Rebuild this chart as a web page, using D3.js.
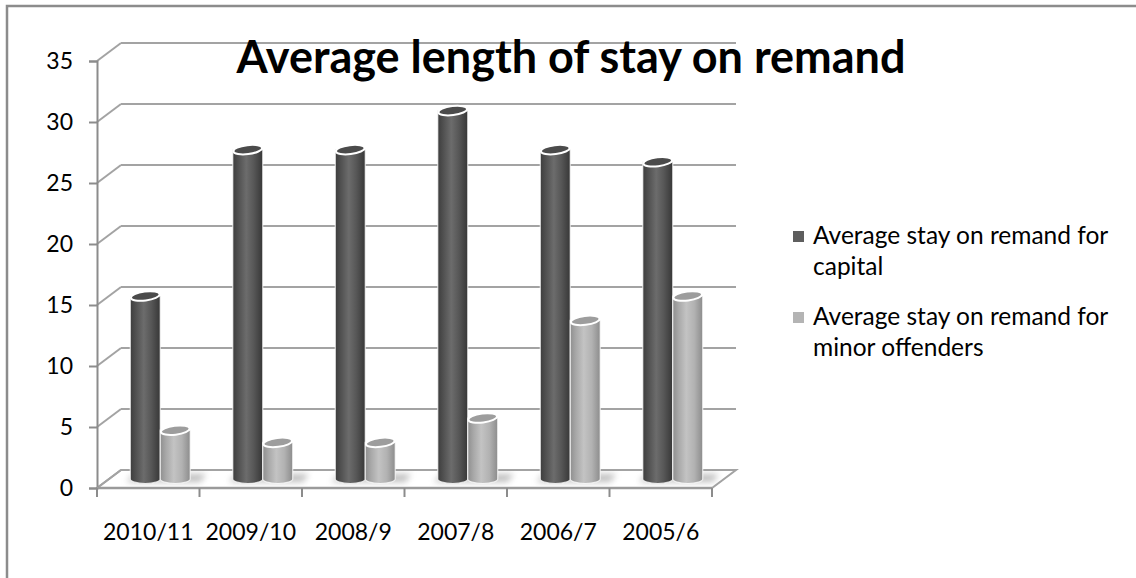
<!DOCTYPE html>
<html>
<head>
<meta charset="utf-8">
<script src="https://cdn.jsdelivr.net/npm/d3@7"></script>
<style>
  html, body { margin: 0; padding: 0; background: #fff; }
  svg { display: block; }
  text { font-family: Lato, "Open Sans", sans-serif; fill: #000; }
</style>
</head>
<body>
<svg id="chart" width="1136" height="578"></svg>
<script>
// Average length of stay on remand, by year
const categories = ["2010/11", "2009/10", "2008/9", "2007/8", "2006/7", "2005/6"];
const capitalStay = [15, 27, 27, 30.2, 27, 26];
const minorStay = [4, 3, 3, 5, 13, 15];
const seriesNames = ["Average stay on remand for capital", "Average stay on remand for minor offenders"];
const legendLines = [["Average stay on remand for", "capital"], ["Average stay on remand for", "minor offenders"]];
const yTicks = [0, 5, 10, 15, 20, 25, 30, 35];
const titleText = "Average length of stay on remand";

const svg = d3.select("#chart");
const W = 1136, H = 578;

// plot geometry (front plane + oblique depth)
const plot = { left: 97, right: 712, top: 61, bottom: 488 };
const depth = { dx: 24, dy: -18 };
const barDepth = 0.5; // bars stand half way into the floor

const x = d3.scaleBand().domain(categories).range([plot.left, plot.right]).padding(0);
const xs = d3.scaleBand().domain(seriesNames).range([0, x.bandwidth()]).paddingInner(0).paddingOuter(0.71);
const y = d3.scaleLinear().domain([0, 35]).range([plot.bottom, plot.top]);

const series = [
  { name: seriesNames[0], values: capitalStay, grad: "gDark", top: "#4b4b4b", swatch: "#5e5e5e" },
  { name: seriesNames[1], values: minorStay, grad: "gLight", top: "#9d9d9d", swatch: "#b4b4b4" }
];

const grid = "#a3a3a3";
const defs = svg.append("defs");

function cylGrad(id, stops) {
  const g = defs.append("linearGradient").attr("id", id).attr("x1", 0).attr("x2", 1).attr("y1", 0).attr("y2", 0);
  stops.forEach(s => g.append("stop").attr("offset", s[0]).attr("stop-color", s[1]));
}
cylGrad("gDark", [[0, "#3d3d3d"], [0.18, "#505050"], [0.45, "#6c6c6c"], [0.7, "#575757"], [1, "#373737"]]);
cylGrad("gLight", [[0, "#8f8f8f"], [0.2, "#a9a9a9"], [0.45, "#c3c3c3"], [0.72, "#b2b2b2"], [1, "#8c8c8c"]]);

const blur = defs.append("filter").attr("id", "soft").attr("x", "-50%").attr("y", "-50%").attr("width", "200%").attr("height", "200%");
blur.append("feGaussianBlur").attr("stdDeviation", 3);

// outer frame
svg.append("rect").attr("x", 7).attr("y", 6).attr("width", W + 20).attr("height", H + 20)
  .attr("fill", "#fff").attr("stroke", "#8c8c8c").attr("stroke-width", 2.5);

// floor
const fl = plot.left, fr = plot.right, fb = plot.bottom;
svg.append("path")
  .attr("d", `M${fl},${fb} L${fr},${fb} L${fr + depth.dx},${fb + depth.dy} L${fl + depth.dx},${fb + depth.dy} Z`)
  .attr("fill", "#fff").attr("stroke", grid).attr("stroke-width", 2);

// side-wall diagonals and back-wall grid lines
const gridG = svg.append("g");
gridG.selectAll("line.diag").data(yTicks).join("line").attr("class", "diag")
  .attr("x1", plot.left).attr("y1", d => y(d))
  .attr("x2", plot.left + depth.dx).attr("y2", d => y(d) + depth.dy)
  .attr("stroke", grid).attr("stroke-width", 2);
gridG.selectAll("line.back").data(yTicks.filter(d => d > 0)).join("line").attr("class", "back")
  .attr("x1", plot.left + depth.dx).attr("y1", d => y(d) + depth.dy)
  .attr("x2", plot.right + depth.dx).attr("y2", d => y(d) + depth.dy)
  .attr("stroke", grid).attr("stroke-width", 2.2);

// y axis
const yAxis = svg.append("g").attr("transform", `translate(${plot.left},0)`)
  .call(d3.axisLeft(y).tickValues(yTicks).tickSize(8).tickPadding(16));
yAxis.select(".domain").attr("stroke", "#8c8c8c").attr("stroke-width", 2);
yAxis.selectAll(".tick line").attr("stroke", "#8c8c8c").attr("stroke-width", 2);
yAxis.selectAll(".tick text").style("font-family", "Lato").style("font-size", "23px").attr("fill", "#000");

// bars
const offX = depth.dx * barDepth, offY = depth.dy * barDepth;
const rx = xs.bandwidth() / 2, ry = 4.5, tilt = -7;
const base = y(0) + offY;

// soft floor shadows around each pair
svg.append("g").selectAll("path").data(categories).join("path")
  .attr("d", c => {
    const x0 = x(c) + xs(seriesNames[0]) + offX - 4;
    const x1 = x(c) + xs(seriesNames[1]) + xs.bandwidth() + offX + 16;
    return `M${x0},${base + 3} L${x1 - 6},${base + 3} L${x1},${base - 5} L${x0 + 8},${base - 5} Z`;
  })
  .attr("fill", "#8a8a8a").attr("opacity", 0.55).attr("filter", "url(#soft)");

const barsG = svg.append("g");
categories.forEach((c, i) => {
  series.forEach(s => {
    const v = s.values[i];
    const left = x(c) + xs(s.name) + offX;
    const right = left + xs.bandwidth();
    const cx = (left + right) / 2;
    const top = y(v) + offY;
    const g = barsG.append("g");
    g.append("path")
      .attr("d", `M${left},${top} L${left},${base} A${rx},${ry} 0 0 0 ${right},${base} L${right},${top} Z`)
      .attr("fill", `url(#${s.grad})`)
      .attr("stroke", "rgba(255,255,255,0.75)").attr("stroke-width", 1.2);
    g.append("ellipse")
      .attr("cx", cx).attr("cy", top).attr("rx", rx - 0.5).attr("ry", ry)
      .attr("transform", `rotate(${tilt},${cx},${top})`)
      .attr("fill", s.top).attr("stroke", "#fff").attr("stroke-width", 2);
  });
});

// x axis: front edge, boundary ticks, category labels
const edges = categories.map(c => x(c)).concat([x(categories[categories.length - 1]) + x.bandwidth()]);
svg.append("line").attr("x1", plot.left).attr("x2", plot.right).attr("y1", plot.bottom).attr("y2", plot.bottom)
  .attr("stroke", "#9a9a9a").attr("stroke-width", 2.5);
svg.append("g").selectAll("line").data(edges).join("line")
  .attr("x1", d => d).attr("x2", d => d).attr("y1", plot.bottom).attr("y2", plot.bottom + 9)
  .attr("stroke", "#8c8c8c").attr("stroke-width", 2);
const xAxis = svg.append("g").attr("transform", `translate(0,${plot.bottom})`)
  .call(d3.axisBottom(x).tickSize(0).tickPadding(36));
xAxis.select(".domain").remove();
xAxis.selectAll(".tick text").style("font-family", "Lato").style("font-size", "23px").attr("fill", "#000");

// title
svg.append("text").attr("x", 571).attr("y", 73).attr("text-anchor", "middle")
  .style("font-weight", "bold").style("font-size", "45px").text(titleText);

// legend
const lg = svg.append("g").attr("transform", "translate(793,231)");
const entry = lg.selectAll("g").data(series).join("g").attr("transform", (d, i) => `translate(0,${i * 81})`);
entry.append("rect").attr("width", 11).attr("height", 11).attr("fill", d => d.swatch);
entry.append("text").attr("x", 20).attr("y", 13).style("font-size", "24.5px")
  .selectAll("tspan").data((d, i) => legendLines[i]).join("tspan")
  .attr("x", 20).attr("dy", (d, j) => j === 0 ? 0 : 31).text(d => d);
</script>
</body>
</html>
